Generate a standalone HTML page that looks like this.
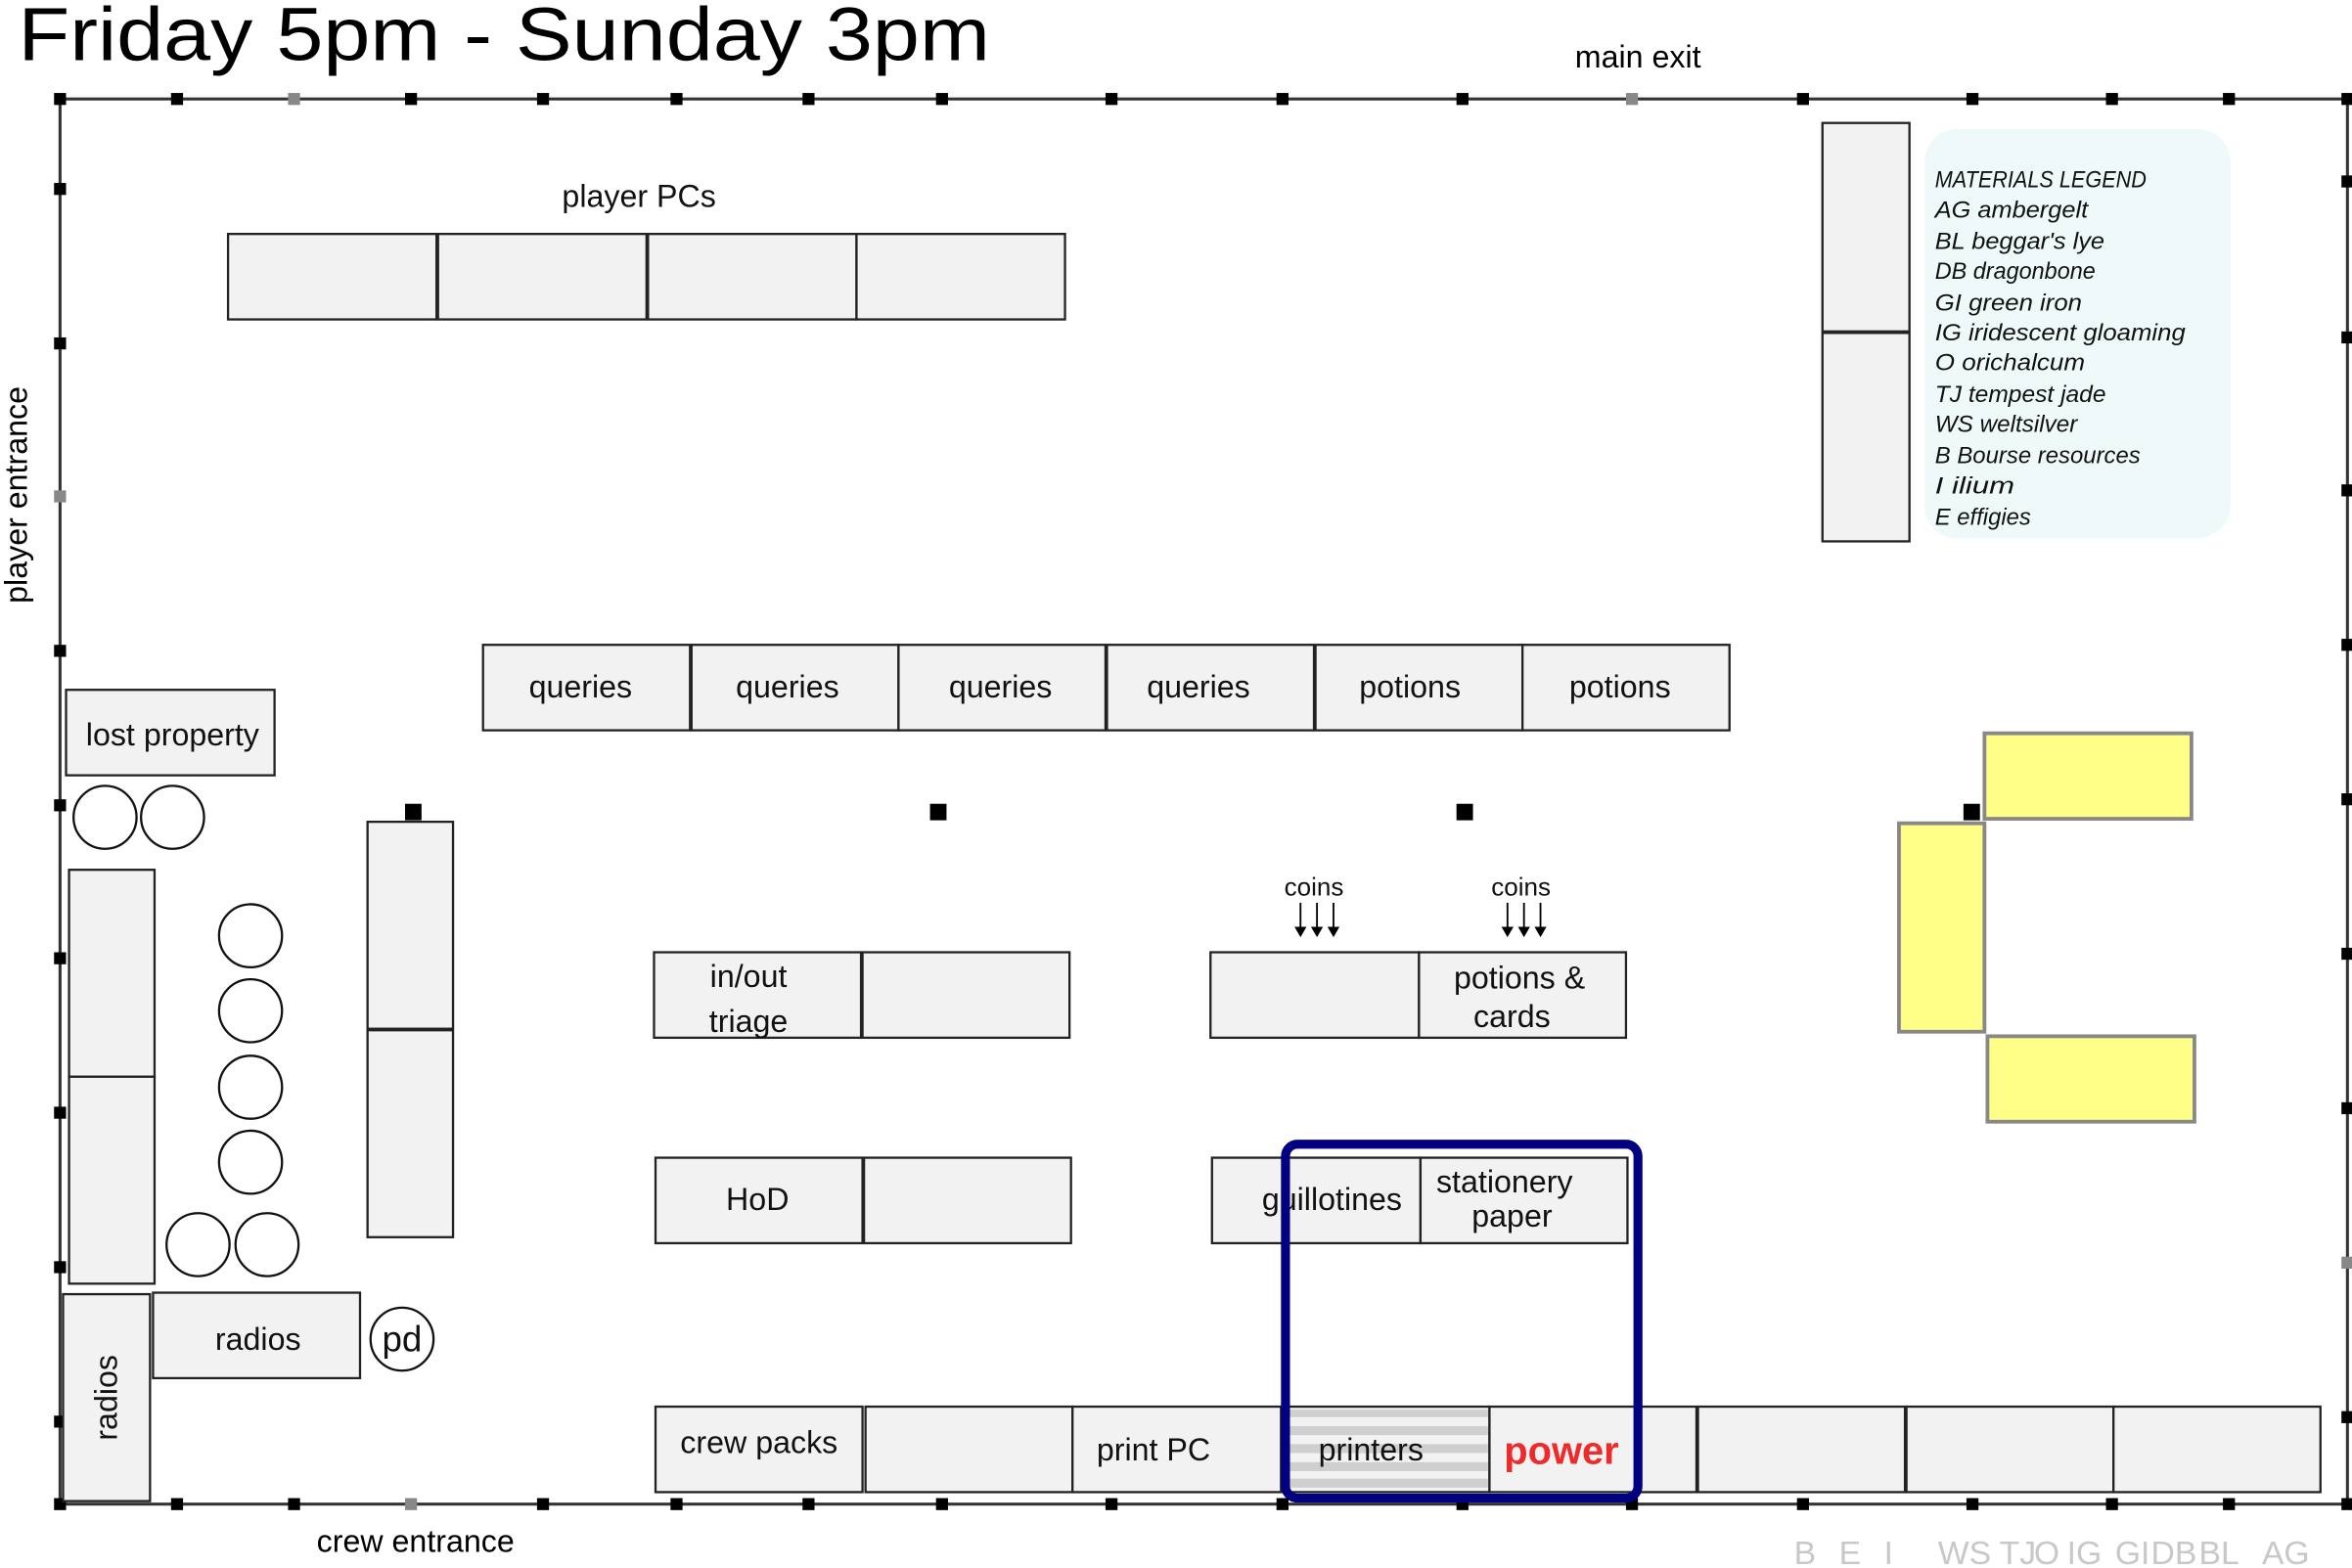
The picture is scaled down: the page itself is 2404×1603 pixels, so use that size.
<!DOCTYPE html>
<html><head><meta charset="utf-8"><style>html,body{margin:0;padding:0;background:#fff}svg{display:block}</style></head>
<body>
<svg width="2404" height="1603" viewBox="0 0 1568 1045.6" xmlns="http://www.w3.org/2000/svg" font-family="'Liberation Sans', 'DejaVu Sans', sans-serif">
<g fill="#000">
<text x="12" y="40" font-size="50" textLength="648" lengthAdjust="spacingAndGlyphs">Friday 5pm - Sunday 3pm</text>
<text x="1092" y="45" font-size="21" text-anchor="middle">main exit</text>
<text x="277" y="1035" font-size="21" text-anchor="middle">crew entrance</text>
<text transform="translate(18,330) rotate(-90)" font-size="21" text-anchor="middle">player entrance</text>
</g>
<rect x="40" y="66" width="1525" height="937" fill="none" stroke="#333" stroke-width="2"/>
<g fill="#000">
<rect x="36" y="62" width="8" height="8"/><rect x="114" y="62" width="8" height="8"/><rect x="192" y="62" width="8" height="8" fill="#888"/><rect x="270" y="62" width="8" height="8"/><rect x="358" y="62" width="8" height="8"/><rect x="447" y="62" width="8" height="8"/><rect x="535" y="62" width="8" height="8"/><rect x="624" y="62" width="8" height="8"/><rect x="737" y="62" width="8" height="8"/><rect x="851" y="62" width="8" height="8"/><rect x="971" y="62" width="8" height="8"/><rect x="1084" y="62" width="8" height="8" fill="#888"/><rect x="1198" y="62" width="8" height="8"/><rect x="1311" y="62" width="8" height="8"/><rect x="1404" y="62" width="8" height="8"/><rect x="1482" y="62" width="8" height="8"/><rect x="1561" y="62" width="8" height="8"/>
<rect x="36" y="999" width="8" height="8"/><rect x="114" y="999" width="8" height="8"/><rect x="192" y="999" width="8" height="8"/><rect x="270" y="999" width="8" height="8" fill="#888"/><rect x="358" y="999" width="8" height="8"/><rect x="447" y="999" width="8" height="8"/><rect x="535" y="999" width="8" height="8"/><rect x="624" y="999" width="8" height="8"/><rect x="737" y="999" width="8" height="8"/><rect x="851" y="999" width="8" height="8"/><rect x="971" y="999" width="8" height="8"/><rect x="1084" y="999" width="8" height="8"/><rect x="1198" y="999" width="8" height="8"/><rect x="1311" y="999" width="8" height="8"/><rect x="1404" y="999" width="8" height="8"/><rect x="1482" y="999" width="8" height="8"/><rect x="1561" y="999" width="8" height="8"/>
<rect x="36" y="122" width="8" height="8"/><rect x="36" y="225" width="8" height="8"/><rect x="36" y="327" width="8" height="8" fill="#888"/><rect x="36" y="430" width="8" height="8"/><rect x="36" y="533" width="8" height="8"/><rect x="36" y="635" width="8" height="8"/><rect x="36" y="738" width="8" height="8"/><rect x="36" y="841" width="8" height="8"/><rect x="36" y="944" width="8" height="8"/>
<rect x="1561" y="117" width="8" height="8"/><rect x="1561" y="221" width="8" height="8"/><rect x="1561" y="323" width="8" height="8"/><rect x="1561" y="426" width="8" height="8"/><rect x="1561" y="529" width="8" height="8"/><rect x="1561" y="632" width="8" height="8"/><rect x="1561" y="735" width="8" height="8"/><rect x="1561" y="838" width="8" height="8" fill="#888"/><rect x="1561" y="941" width="8" height="8"/>
<rect x="270" y="536" width="11" height="11"/><rect x="620" y="536" width="11" height="11"/><rect x="971" y="536" width="11" height="11"/><rect x="1309" y="536" width="11" height="11"/>
</g>
<g fill="#f2f2f2" stroke="#222" stroke-width="1.5">
<rect x="152" y="156" width="139" height="57"/><rect x="292" y="156" width="139" height="57"/><rect x="432" y="156" width="139" height="57"/><rect x="571" y="156" width="139" height="57"/>
<rect x="322" y="430" width="138" height="57"/><rect x="461" y="430" width="138" height="57"/><rect x="599" y="430" width="138" height="57"/><rect x="738" y="430" width="138" height="57"/><rect x="877" y="430" width="138" height="57"/><rect x="1015" y="430" width="138" height="57"/>
<rect x="1215" y="82" width="58" height="139"/><rect x="1215" y="222" width="58" height="139"/>
<rect x="44" y="460" width="139" height="57"/>
<rect x="46" y="580" width="57" height="138"/><rect x="46" y="718" width="57" height="138"/>
<rect x="245" y="548" width="57" height="138"/><rect x="245" y="687" width="57" height="138"/>
<rect x="42" y="863" width="58" height="138"/><rect x="102" y="862" width="138" height="57"/>
<rect x="436" y="635" width="138" height="57"/><rect x="575" y="635" width="138" height="57"/>
<rect x="437" y="772" width="138" height="57"/><rect x="576" y="772" width="138" height="57"/>
<rect x="807" y="635" width="139" height="57"/><rect x="946" y="635" width="138" height="57"/>
<rect x="808" y="772" width="139" height="57"/><rect x="947" y="772" width="138" height="57"/>
<rect x="437" y="938" width="138" height="57"/><rect x="577" y="938" width="138" height="57"/><rect x="715" y="938" width="139" height="57"/><rect x="855" y="938" width="138" height="57"/><rect x="993" y="938" width="138" height="57"/><rect x="1132" y="938" width="138" height="57"/><rect x="1271" y="938" width="138" height="57"/><rect x="1409" y="938" width="138" height="57"/>
</g>
<g fill="#cfcfcf"><rect x="857" y="940" width="135" height="5"/><rect x="857" y="951" width="135" height="6"/><rect x="857" y="963" width="135" height="6"/><rect x="857" y="975" width="135" height="6"/><rect x="857" y="986" width="135" height="6"/></g>
<g fill="#fff" stroke="#111" stroke-width="1.5">
<circle cx="70" cy="545" r="21"/><circle cx="115" cy="545" r="21"/>
<circle cx="167" cy="624" r="21"/><circle cx="167" cy="674" r="21"/><circle cx="167" cy="725" r="21"/><circle cx="167" cy="775" r="21"/>
<circle cx="132" cy="830" r="21"/><circle cx="178" cy="830" r="21"/>
<circle cx="268" cy="893" r="21"/>
</g>
<g fill="#ffff88" stroke="#888" stroke-width="2.5">
<rect x="1323" y="489" width="138" height="57"/><rect x="1266" y="549" width="57" height="139"/><rect x="1325" y="691" width="138" height="57"/>
</g>
<rect x="1283" y="86" width="204" height="273" rx="22" fill="#f0f9f9"/>
<g font-style="italic" font-size="15.5" fill="#111">
<text x="1290" y="125" textLength="141" lengthAdjust="spacingAndGlyphs">MATERIALS LEGEND</text>
<text x="1290" y="145" textLength="102" lengthAdjust="spacingAndGlyphs">AG  ambergelt</text>
<text x="1290" y="166" textLength="113" lengthAdjust="spacingAndGlyphs">BL  beggar's lye</text>
<text x="1290" y="186" textLength="107" lengthAdjust="spacingAndGlyphs">DB  dragonbone</text>
<text x="1290" y="207" textLength="98" lengthAdjust="spacingAndGlyphs">GI  green iron</text>
<text x="1290" y="227" textLength="167" lengthAdjust="spacingAndGlyphs">IG  iridescent gloaming</text>
<text x="1290" y="247" textLength="100" lengthAdjust="spacingAndGlyphs">O  orichalcum</text>
<text x="1290" y="268" textLength="114" lengthAdjust="spacingAndGlyphs">TJ  tempest jade</text>
<text x="1290" y="288" textLength="95" lengthAdjust="spacingAndGlyphs">WS weltsilver</text>
<text x="1290" y="309" textLength="137" lengthAdjust="spacingAndGlyphs">B Bourse resources</text>
<text x="1290" y="329" textLength="53" lengthAdjust="spacingAndGlyphs">I  ilium</text>
<text x="1290" y="350" textLength="64" lengthAdjust="spacingAndGlyphs">E effigies</text>
</g>
<g font-size="21" fill="#111" text-anchor="middle">
<text x="426" y="138">player PCs</text>
<text x="387" y="465">queries</text><text x="525" y="465">queries</text><text x="667" y="465">queries</text><text x="799" y="465">queries</text><text x="940" y="465">potions</text><text x="1080" y="465">potions</text>
<text x="115" y="497">lost property</text>
<text x="499" y="658">in/out</text><text x="499" y="688">triage</text>
<text x="1013" y="659">potions &amp;</text><text x="1008" y="685">cards</text>
<text x="505" y="807">HoD</text>
<text x="888" y="807">guillotines</text>
<text x="1003" y="795">stationery</text><text x="1008" y="818">paper</text>
<text x="172" y="900">radios</text>
<text x="268" y="901" font-size="24">pd</text>
<text transform="translate(78,932) rotate(-90)">radios</text>
<text x="506" y="969">crew packs</text>
<text x="769" y="974">print PC</text>
<text x="914" y="974">printers</text>
<text x="1041" y="976" font-weight="bold" font-size="26" fill="#ee2a2a">power</text>
<text x="876" y="597" font-size="17">coins</text><text x="1014" y="597" font-size="17">coins</text>
</g>
<g stroke="#000" stroke-width="1.2">
<line x1="867" y1="602" x2="867" y2="620"/><line x1="878" y1="602" x2="878" y2="620"/><line x1="889" y1="602" x2="889" y2="620"/>
<line x1="1005" y1="602" x2="1005" y2="620"/><line x1="1016" y1="602" x2="1016" y2="620"/><line x1="1027" y1="602" x2="1027" y2="620"/>
</g>
<g fill="#000">
<path d="M863,618h8l-4,7z"/><path d="M874,618h8l-4,7z"/><path d="M885,618h8l-4,7z"/>
<path d="M1001,618h8l-4,7z"/><path d="M1012,618h8l-4,7z"/><path d="M1023,618h8l-4,7z"/>
</g>
<rect x="857" y="763" width="235" height="236" rx="8" fill="none" stroke="#000080" stroke-width="6"/>
<g font-size="22" fill="#c8c8c8">
<text x="1196" y="1043">B</text><text x="1226" y="1043">E</text><text x="1256" y="1043">I</text>
<text x="1292" y="1043">WS</text><text x="1333" y="1043">TJ</text><text x="1356" y="1043">O</text><text x="1378" y="1043">IG</text>
<text x="1410" y="1043">GI</text><text x="1434" y="1043">DB</text><text x="1466" y="1043">BL</text><text x="1508" y="1043">AG</text>
</g>
</svg>
</body></html>
